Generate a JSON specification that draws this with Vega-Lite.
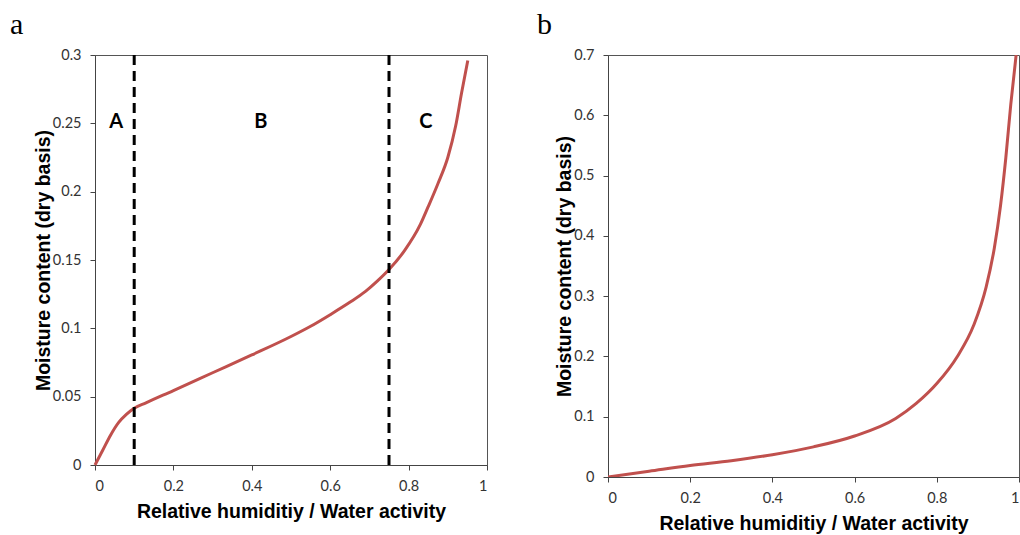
{
  "$schema": "https://vega.github.io/schema/vega-lite/v6.json",
  "background": "white",
  "padding": {"left": 9, "top": 9, "right": 0, "bottom": 0},
  "bounds": "flush",
  "spacing": 121,
  "datasets": {
    "curveA": [
      {"aw": 0, "mc": 0},
      {"aw": 0.02, "mc": 0.011},
      {"aw": 0.04, "mc": 0.022},
      {"aw": 0.06, "mc": 0.031},
      {"aw": 0.08, "mc": 0.037},
      {"aw": 0.1, "mc": 0.0415},
      {"aw": 0.13, "mc": 0.0455},
      {"aw": 0.2, "mc": 0.0545},
      {"aw": 0.3, "mc": 0.0675},
      {"aw": 0.4, "mc": 0.0805},
      {"aw": 0.5, "mc": 0.094},
      {"aw": 0.55, "mc": 0.1015},
      {"aw": 0.6, "mc": 0.11},
      {"aw": 0.65, "mc": 0.119},
      {"aw": 0.69, "mc": 0.127},
      {"aw": 0.72, "mc": 0.1345},
      {"aw": 0.75, "mc": 0.143},
      {"aw": 0.79, "mc": 0.157},
      {"aw": 0.83, "mc": 0.176},
      {"aw": 0.85, "mc": 0.189},
      {"aw": 0.875, "mc": 0.206},
      {"aw": 0.9, "mc": 0.225},
      {"aw": 0.92, "mc": 0.248},
      {"aw": 0.935, "mc": 0.272},
      {"aw": 0.951, "mc": 0.296}
    ],
    "boundaries": [
      {"aw": 0.1},
      {"aw": 0.75}
    ],
    "zones": [
      {"zone": "A", "aw": 0.054, "mc": 0.251},
      {"zone": "B", "aw": 0.423, "mc": 0.251},
      {"zone": "C", "aw": 0.844, "mc": 0.251}
    ],
    "curveB": [
      {"aw": 0, "mc": 0},
      {"aw": 0.1, "mc": 0.0095},
      {"aw": 0.2, "mc": 0.019},
      {"aw": 0.3, "mc": 0.027},
      {"aw": 0.4, "mc": 0.037},
      {"aw": 0.5, "mc": 0.05},
      {"aw": 0.6, "mc": 0.068},
      {"aw": 0.7, "mc": 0.097},
      {"aw": 0.75, "mc": 0.122},
      {"aw": 0.8, "mc": 0.155},
      {"aw": 0.85, "mc": 0.2},
      {"aw": 0.89, "mc": 0.252},
      {"aw": 0.92, "mc": 0.315},
      {"aw": 0.94, "mc": 0.38},
      {"aw": 0.955, "mc": 0.45},
      {"aw": 0.968, "mc": 0.53},
      {"aw": 0.98, "mc": 0.618},
      {"aw": 0.993, "mc": 0.7}
    ]
  },
  "config": {
    "view": {"stroke": "#555", "strokeWidth": 1},
    "axis": {
      "grid": false,
      "domainColor": "#444",
      "tickColor": "#444",
      "tickSize": 5,
      "labelFont": "Lato",
      "labelFontSize": 14.5,
      "labelColor": "#333",
      "titleFont": "Liberation Sans",
      "titleFontSize": 19.5,
      "titleFontWeight": "bold",
      "titleColor": "black"
    },
    "axisX": {"labelPadding": 9, "titlePadding": 10, "format": "~g"},
    "axisY": {"labelPadding": 9, "titlePadding": -1, "format": "~g"},
    "title": {
      "font": "Liberation Serif",
      "fontSize": 30,
      "fontWeight": "normal",
      "color": "black",
      "anchor": "start",
      "frame": "group",
      "offset": 7
    }
  },
  "hconcat": [
    {
      "width": 392,
      "height": 410,
      "title": {"text": "a", "dx": -85},
      "layer": [
        {
          "data": {"name": "curveA"},
          "mark": {"type": "line", "color": "#C0504D", "strokeWidth": 3, "interpolate": "monotone"},
          "encoding": {
            "x": {
              "field": "aw", "type": "quantitative",
              "scale": {"domain": [0, 1]},
              "axis": {"title": "Relative humiditiy / Water activity", "values": [0, 0.2, 0.4, 0.6, 0.8, 1]}
            },
            "y": {
              "field": "mc", "type": "quantitative",
              "scale": {"domain": [0, 0.3]},
              "axis": {"title": "Moisture content (dry basis)", "values": [0, 0.05, 0.1, 0.15, 0.2, 0.25, 0.3]}
            }
          }
        },
        {
          "data": {"name": "boundaries"},
          "mark": {"type": "rule", "color": "black", "strokeWidth": 3, "strokeDash": [10, 6]},
          "encoding": {
            "x": {"field": "aw", "type": "quantitative"}
          }
        },
        {
          "data": {"name": "zones"},
          "mark": {"type": "text", "font": "Lato", "fontWeight": "bold", "fontSize": 20, "color": "black"},
          "encoding": {
            "x": {"field": "aw", "type": "quantitative"},
            "y": {"field": "mc", "type": "quantitative"},
            "text": {"field": "zone"}
          }
        }
      ]
    },
    {
      "width": 411,
      "height": 422,
      "title": {"text": "b", "dx": -71},
      "data": {"name": "curveB"},
      "mark": {"type": "line", "color": "#C0504D", "strokeWidth": 3, "interpolate": "monotone", "clip": true},
      "encoding": {
        "x": {
          "field": "aw", "type": "quantitative",
          "scale": {"domain": [0, 1]},
          "axis": {"title": "Relative humiditiy / Water activity", "values": [0, 0.2, 0.4, 0.6, 0.8, 1]}
        },
        "y": {
          "field": "mc", "type": "quantitative",
          "scale": {"domain": [0, 0.7]},
          "axis": {"title": "Moisture content (dry basis)", "values": [0, 0.1, 0.2, 0.3, 0.4, 0.5, 0.6, 0.7]}
        }
      }
    }
  ]
}
